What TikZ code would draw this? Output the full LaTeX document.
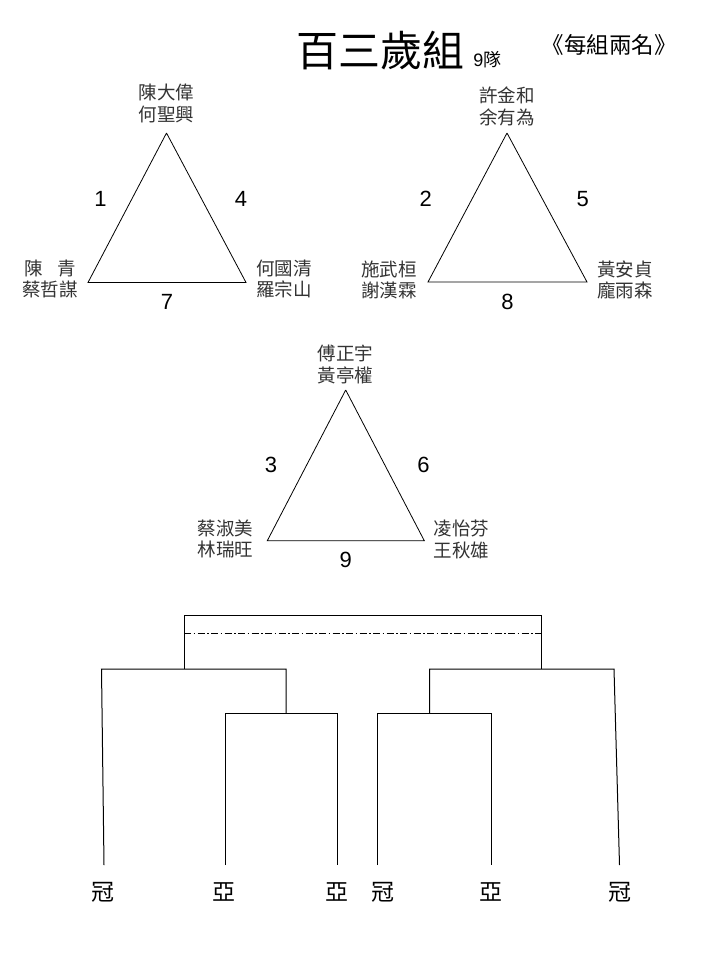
\documentclass[tikz,border=0pt]{standalone}
\usepackage{fontspec}
\setmainfont{Liberation Sans}
\newfontfamily\cjk{Noto Sans CJK TC}
\usetikzlibrary{positioning}
\tikzset{
x=1pt, y=-1pt, % one unit per pixel, y pointing down
names/.style={font=\cjk\fontsize{18.5}{21.5}\selectfont, text=black!80, align=center, inner sep=0pt}, % player names at the corners
num/.style={font=\fontsize{22}{22}\selectfont, inner sep=0pt}, % match numbers
place/.style={font=\cjk\fontsize{23}{23}\selectfont, inner sep=0pt}, % results under the bracket
tri/.style={line width=0.8pt}, % triangle edges
bracket/.style={line width=1pt}, % bracket lines
midline/.style={line width=0.8pt, dash pattern=on 7pt off 2.5pt on 1.5pt off 2.5pt},
}

\begin{document}
\begin{tikzpicture}
  \useasboundingbox (0,0) rectangle (720,960);

  % Title
  \node[font=\cjk\fontsize{42}{42}\selectfont, inner sep=0pt] (title) at (380,51) {百三歲組};
  \node[font=\fontsize{18}{18}\selectfont, inner sep=0pt, anchor=base west] (teams) at ([xshift=9pt]title.base east) {9{\cjk 隊}};
  \node[font=\cjk\fontsize{22.5}{22.5}\selectfont, inner sep=0pt] (rule) at (609,45) {《每組兩名》};

  % Triangle 1
  \coordinate (t1a) at (166.5,133);
  \coordinate (t1b) at (88,282.5);
  \coordinate (t1c) at (246,282.5);
  \draw[tri] (t1a) -- node[num, pos=.44, left=25pt] {1} (t1b)
    -- node[num, below=11pt] {7} (t1c)
    -- node[num, pos=.56, right=33pt] {4} (t1a);
  \node[names, above=10pt of t1a] (n1a) {陳大偉\\何聖興};
  \node[names, left=10pt of t1b, yshift=3.5pt] (n1b) {陳\hspace{0.8em}青\\蔡哲謀};
  \node[names, right=10pt of t1c, yshift=3.5pt] (n1c) {何國清\\羅宗山};

  % Triangle 2
  \coordinate (t2a) at (507,133);
  \coordinate (t2b) at (428,282);
  \coordinate (t2c) at (587,282);
  \draw[tri] (t2a) -- node[num, pos=.44, left=40pt] {2} (t2b)
    -- node[num, below=12pt] {8} (t2c)
    -- node[num, pos=.56, right=34pt] {5} (t2a);
  \node[names, above=7pt of t2a] (n2a) {許金和\\余有為};
  \node[names, left=11pt of t2b, yshift=2pt] (n2b) {施武桓\\謝漢霖};
  \node[names, right=10pt of t2c, yshift=2pt] (n2c) {黃安貞\\龐雨森};

  % Triangle 3
  \coordinate (t3a) at (345.7,390);
  \coordinate (t3b) at (267.3,540.7);
  \coordinate (t3c) at (424.3,540.7);
  \draw[tri] (t3a) -- node[num, pos=.5, left=29pt] {3} (t3b)
    -- node[num, below=11pt] {9} (t3c)
    -- node[num, pos=.5, right=32pt] {6} (t3a);
  \node[names, above=6pt of t3a] (n3a) {傅正宇\\黃亭權};
  \node[names, left=14pt of t3b, yshift=2pt] (n3b) {蔡淑美\\林瑞旺};
  \node[names, right=9pt of t3c, yshift=1pt] (n3c) {凌怡芬\\王秋雄};

  % Bracket
  \coordinate (topl) at (184,615);
  \coordinate (topr) at (541,615);
  \coordinate (dl) at (184,633);
  \coordinate (dr) at (541,633);
  \coordinate (sl) at (184,669);
  \coordinate (sr) at (541,669);
  \coordinate (l0) at (101.5,669);
  \coordinate (l1) at (286,669);
  \coordinate (l1d) at (286,713);
  \coordinate (l2) at (225,713);
  \coordinate (l3) at (337,713);
  \coordinate (r0) at (614,669);
  \coordinate (r1) at (429.5,669);
  \coordinate (r1d) at (429.5,713);
  \coordinate (r2) at (377.5,713);
  \coordinate (r3) at (491,713);
  \coordinate (e1) at (104,865);
  \coordinate (e2) at (225,865);
  \coordinate (e3) at (337,865);
  \coordinate (e4) at (377.5,865);
  \coordinate (e5) at (491,865);
  \coordinate (e6) at (619.5,865);

  \draw[bracket] (sl) -- (topl) -- (topr) -- (sr);
  \draw[midline] (dl) -- (dr);
  \draw[bracket] (e1) -- (l0) -- (l1) -- (l1d);
  \draw[bracket] (e2) -- (l2) -- (l3) -- (e3);
  \draw[bracket] (e4) -- (r2) -- (r3) -- (e5);
  \draw[bracket] (r1d) -- (r1) -- (r0) -- (e6);

  % Results
  \node[place, below=17pt of e1, xshift=-1.5pt] (p1) {冠};
  \node[place, below=17pt of e2, xshift=-1.5pt] (p2) {亞};
  \node[place, below=17pt of e3] (p3) {亞};
  \node[place, below=17pt of e4, xshift=5pt] (p4) {冠};
  \node[place, below=17pt of e5] (p5) {亞};
  \node[place, below=17pt of e6] (p6) {冠};
\end{tikzpicture}
\end{document}
